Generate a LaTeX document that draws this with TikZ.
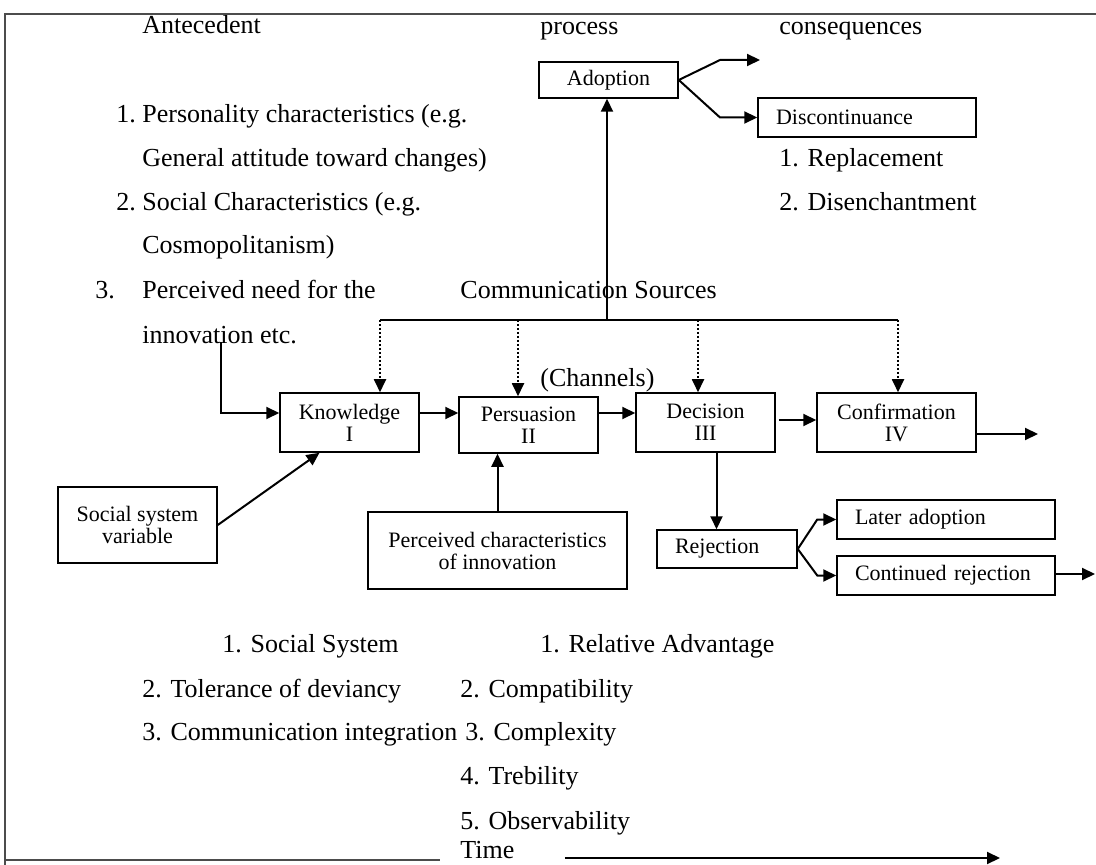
\documentclass[tikz,border=0pt]{standalone}
\usepackage{fontspec}
\setmainfont{Liberation Serif}
\usetikzlibrary{arrows.meta,calc}

\tikzset{
  box/.style={draw, line width=0.75pt, inner sep=0pt, align=center, font=\fontsize{11}{11}\selectfont},
  lbox/.style={draw, line width=0.75pt, inner xsep=9pt, inner ysep=0pt, align=left, font=\fontsize{11}{11}\selectfont},
  txt/.style={anchor=base west, inner sep=0pt, font=\fontsize{13}{13}\selectfont},
  arr/.style={-{Triangle[length=6.5pt,width=6pt]}, line width=1pt},
  dotarr/.style={arr, densely dotted, line width=0.9pt},
  frame/.style={line width=0.6pt, draw=black!70}
}

\begin{document}
\begin{tikzpicture}[x=0.5pt,y=-0.5pt]
	\useasboundingbox (0,0) rectangle (1096,865);
	% headings
	\node[txt] (hAnte) at (142,34) {Antecedent};
	\node[txt] (hProc) at (540,35) {process};
	\node[txt] (hCons) at (779,35) {consequences};
	% antecedent list
	\node[txt] (aOneN) at (116,123) {1.};
	\node[txt] (aOne) at (142,123) {Personality characteristics (e.g.};
	\node[txt] (aOneB) at (142,167) {General attitude toward changes)};
	\node[txt] (aTwoN) at (116,211) {2.};
	\node[txt] (aTwo) at (142,211) {Social Characteristics (e.g.};
	\node[txt] (aTwoB) at (142,254) {Cosmopolitanism)};
	\node[txt] (aThrN) at (95,299) {3.};
	\node[txt] (aThr) at (142,299) {Perceived need for the};
	\node[txt] (aThrB) at (142,344) {innovation etc.};
	\node[txt] (commSrc) at (460,299) {Communication Sources};
	\node[txt] (channels) at (540,387) {(Channels)};
	% consequences list
	\node[txt] (cOne) at (779,167) {1. Replacement};
	\node[txt] (cTwo) at (779,211) {2. Disenchantment};
	% bottom lists
	\node[txt] (sOne) at (222,652) {1. Social System};
	\node[txt] (sTwo) at (142,697) {2. Tolerance of deviancy};
	\node[txt] (sThr) at (142,740) {3. Communication integration};
	\node[txt] (pOne) at (540,652) {1. Relative Advantage};
	\node[txt] (pTwo) at (460,697) {2. Compatibility};
	\node[txt] (pThr) at (465,740) {3. Complexity};
	\node[txt] (pFou) at (460,784) {4. Trebility};
	\node[txt] (pFiv) at (460,829) {5. Observability};
	\node[txt] (time) at (460,858) {Time};

	% boxes
	\node[box, minimum width=69.5pt, minimum height=29.5pt] (know) at (349.5,422.5) {Knowledge\\I};
	\node[box, minimum width=69.5pt, minimum height=28pt] (pers) at (528.5,425) {Persuasion\\II};
	\node[box, minimum width=69.5pt, minimum height=29.5pt] (dec) at (705.5,422.5) {Decision\\III};
	\node[box, minimum width=79.5pt, minimum height=29.5pt] (conf) at (896.5,422.5) {Confirmation\\IV};
	\node[box, minimum width=69.5pt, minimum height=18pt] (adopt) at (608.5,80) {Adoption};
	\node[lbox, text width=91pt, minimum height=19.5pt] (disc) at (867,117.5) {Discontinuance};
	\node[box, minimum width=79.5pt, minimum height=38pt] (soc) at (137.5,525) {Social system\\variable};
	\node[box, minimum width=129.5pt, minimum height=38.5pt] (perc) at (497.5,550.5) {Perceived characteristics\\of innovation};
	\node[lbox, text width=52pt, minimum height=19pt] (rej) at (727,549) {Rejection};
	\node[lbox, text width=91pt, minimum height=19.5pt] (later) at (946,519.5) {Later adoption};
	\node[lbox, text width=91pt, minimum height=19.5pt] (cont) at (946,575.5) {Continued rejection};

	% main row
	\coordinate (rowA) at (0,413);
	\coordinate (rowB) at (0,420);
	\draw[arr] (know.east |- rowA) -- (pers.west |- rowA);
	\draw[arr] (pers.east |- rowA) -- (dec.west |- rowA);
	\draw[arr] ([xshift=1.5pt]dec.east |- rowB) -- (conf.west |- rowB);
	\coordinate (confOut) at (1038,434);
	\draw[arr] (conf.east |- confOut) -- (confOut);

	% antecedents into knowledge
	\coordinate (innov) at (221,342);
	\draw[arr] (innov) |- (know.west |- rowA);
	\draw[arr] (soc.east) -- ($(know.south)+(-30,0)$);
	\draw[arr] (perc.north) -- (perc.north |- pers.south);

	% communication sources
	\coordinate (hub) at (607,320);
	\coordinate (busL) at (380,320);
	\coordinate (busR) at (898,320);
	\coordinate (dp) at (518,320);
	\coordinate (dd) at (698,320);
	\draw[line width=1pt] (busL) -- (busR);
	\draw[arr] (hub) -- (hub |- adopt.south);
	\draw[dotarr] (busL) -- (busL |- know.north);
	\draw[dotarr] (dp) -- (dp |- pers.north);
	\draw[dotarr] (dd) -- (dd |- dec.north);
	\draw[dotarr] (busR) -- (busR |- conf.north);

	% adoption fork
	\coordinate (adoptOut) at (760,60);
	\draw[arr] (adopt.east) -- (720,60) -- (adoptOut);
	\draw[arr] (adopt.east) -- (720,117.5) -- (disc.west);

	% rejection
	\coordinate (dr) at ($(dec.south)+(11,0)$);
	\draw[arr] (dr) -- (dr |- rej.north);
	\draw[arr] (rej.east) -- ($(later.west)+(-19,0)$) -- (later.west);
	\draw[arr] (rej.east) -- ($(cont.west)+(-19,0)$) -- (cont.west);
	\coordinate (contOut) at (1095,574);
	\draw[arr] (cont.east |- contOut) -- (contOut);

	% frame and time axis
	\coordinate (fTL) at (5,14);
	\coordinate (fTR) at (1096,14);
	\coordinate (fBL) at (5,865);
	\coordinate (fB) at (5,860);
	\coordinate (tl) at ($(time.west)+(-20,0)$);
	\coordinate (tr) at ($(time.east)+(50,0)$);
	\coordinate (timeEnd) at (1000,858);
	\draw[frame] (fTR) -- (fTL) -- (fBL);
	\draw[frame] (fB) -- (fB -| tl);
	\draw[arr] (timeEnd -| tr) -- (timeEnd);
\end{tikzpicture}
\end{document}
